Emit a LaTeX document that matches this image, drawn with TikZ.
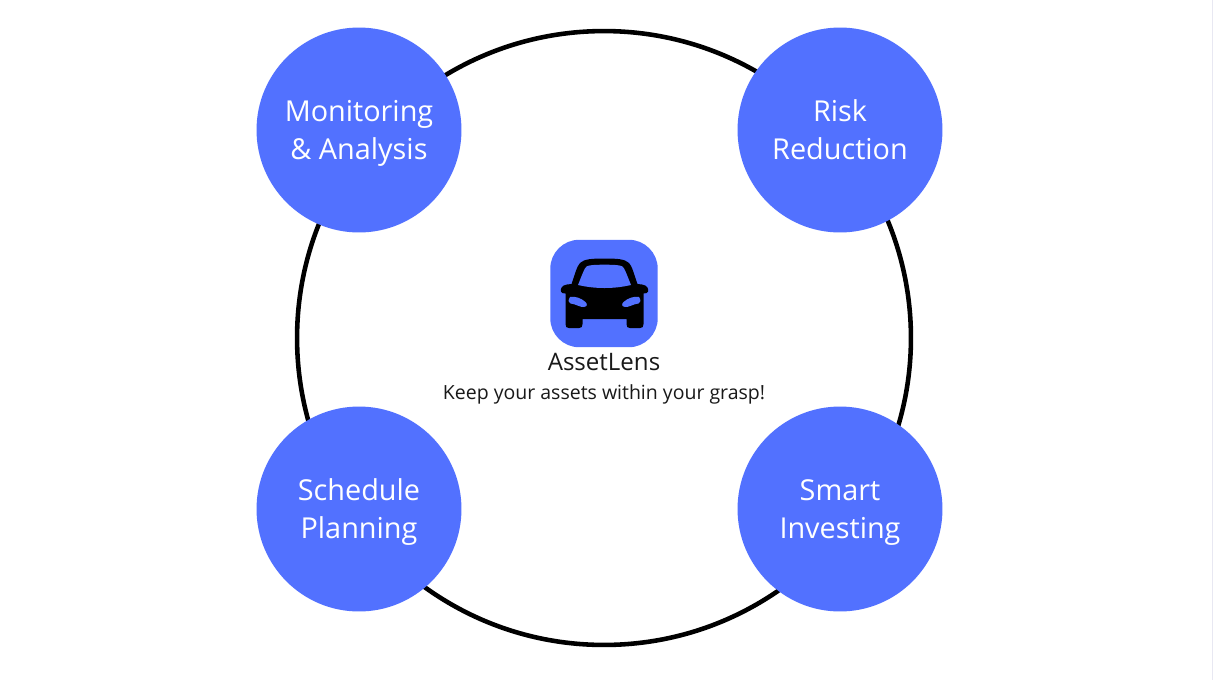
\documentclass[tikz,border=0pt]{standalone}
\usepackage{fontspec}
\setmainfont{Open Sans}
\definecolor{lensblue}{HTML}{5271FF}
\definecolor{edgestrip}{HTML}{E8E8F2}
\begin{document}
\begin{tikzpicture}
      [x=0.02cm,y=-0.02cm,
      main node/.style={circle,fill=lensblue,inner sep=0pt,minimum size=4.1cm,align=center,
        text=white,font=\fontsize{16.4}{22.1}\selectfont,text height=36pt,text depth=2pt},
      ring node/.style={circle,draw=black,line width=2.6pt,inner sep=0pt,minimum size=12.28cm},
      icon node/.style={rectangle,fill=lensblue,rounded corners=0.58cm,inner sep=0pt,minimum size=2.15cm},
      caption node/.style={inner sep=0pt,text=black!90}]
      \useasboundingbox (0,0) rectangle (1213,680);
      \fill[white] (0,0) rectangle (1213,680);
      \fill[edgestrip] (1212,0) rectangle (1213,680);
      \node[ring node] (ring) at (604,338) {};
      \node[main node] (v0) at (359,130) {Monitoring\\\& Analysis};
      \node[main node] (v1) at (840,130) {Risk\\Reduction};
      \node[main node] (v2) at (359,509) {Schedule\\Planning};
      \node[main node] (v3) at (840,509) {Smart\\Investing};
      \node[icon node] (icon) at (604,293.5) {};
      \node[caption node,font=\fontsize{13.7}{16}\selectfont] (name) at (604,362) {AssetLens};
      \node[caption node,font=\fontsize{11.1}{14}\selectfont] (slogan) at (604,394) {Keep your assets within your grasp!};
      % car
      \fill[black] (604.5,258.5) .. controls (592,258.5) and (584,259) .. (580,263)
        .. controls (577,266) and (575,274) .. (571.5,284) -- (567,284.5)
        .. controls (562,285) and (560,289) .. (561,291.5) .. controls (561.5,293) and (563,293.5) .. (565.5,293.5)
        -- (565.5,324) .. controls (565.5,327) and (566.5,328) .. (569,328) -- (579,328)
        .. controls (581.5,328) and (582.5,327) .. (582.5,324) -- (582.5,319) -- (626.5,319) -- (626.5,324)
        .. controls (626.5,327) and (627.5,328) .. (630,328) -- (640,328)
        .. controls (642.5,328) and (643.5,327) .. (643.5,324) -- (643.5,293.5)
        .. controls (646,293.5) and (647.5,293) .. (648,291.5) .. controls (649,289) and (647,285) .. (642,284.5)
        -- (637.5,284) .. controls (634,274) and (632,266) .. (629,263)
        .. controls (625,259) and (617,258.5) .. (604.5,258.5) -- cycle;
      \fill[lensblue] (604.5,264.7) .. controls (595,264.7) and (589,265) .. (586.5,266.5)
        .. controls (584.5,268) and (582,275) .. (578,285)
        .. controls (587,287) and (595,288) .. (604.5,288)
        .. controls (614,288) and (622,287) .. (631,285)
        .. controls (627,275) and (624.5,268) .. (622.5,266.5)
        .. controls (620,265) and (614,264.7) .. (604.5,264.7) -- cycle;
      \fill[lensblue] (570,297) .. controls (568,300) and (568,303) .. (570.5,303.5)
        .. controls (576,304) and (580,307.5) .. (584,307) .. controls (587.5,306.5) and (587.5,304) .. (585.5,302)
        .. controls (581,298) and (575,296) .. (570,297) -- cycle;
      \fill[lensblue] (639,297) .. controls (641,300) and (641,303) .. (638.5,303.5)
        .. controls (633,304) and (629,307.5) .. (625,307) .. controls (621.5,306.5) and (621.5,304) .. (623.5,302)
        .. controls (628,298) and (634,296) .. (639,297) -- cycle;
    \end{tikzpicture}
\end{document}
